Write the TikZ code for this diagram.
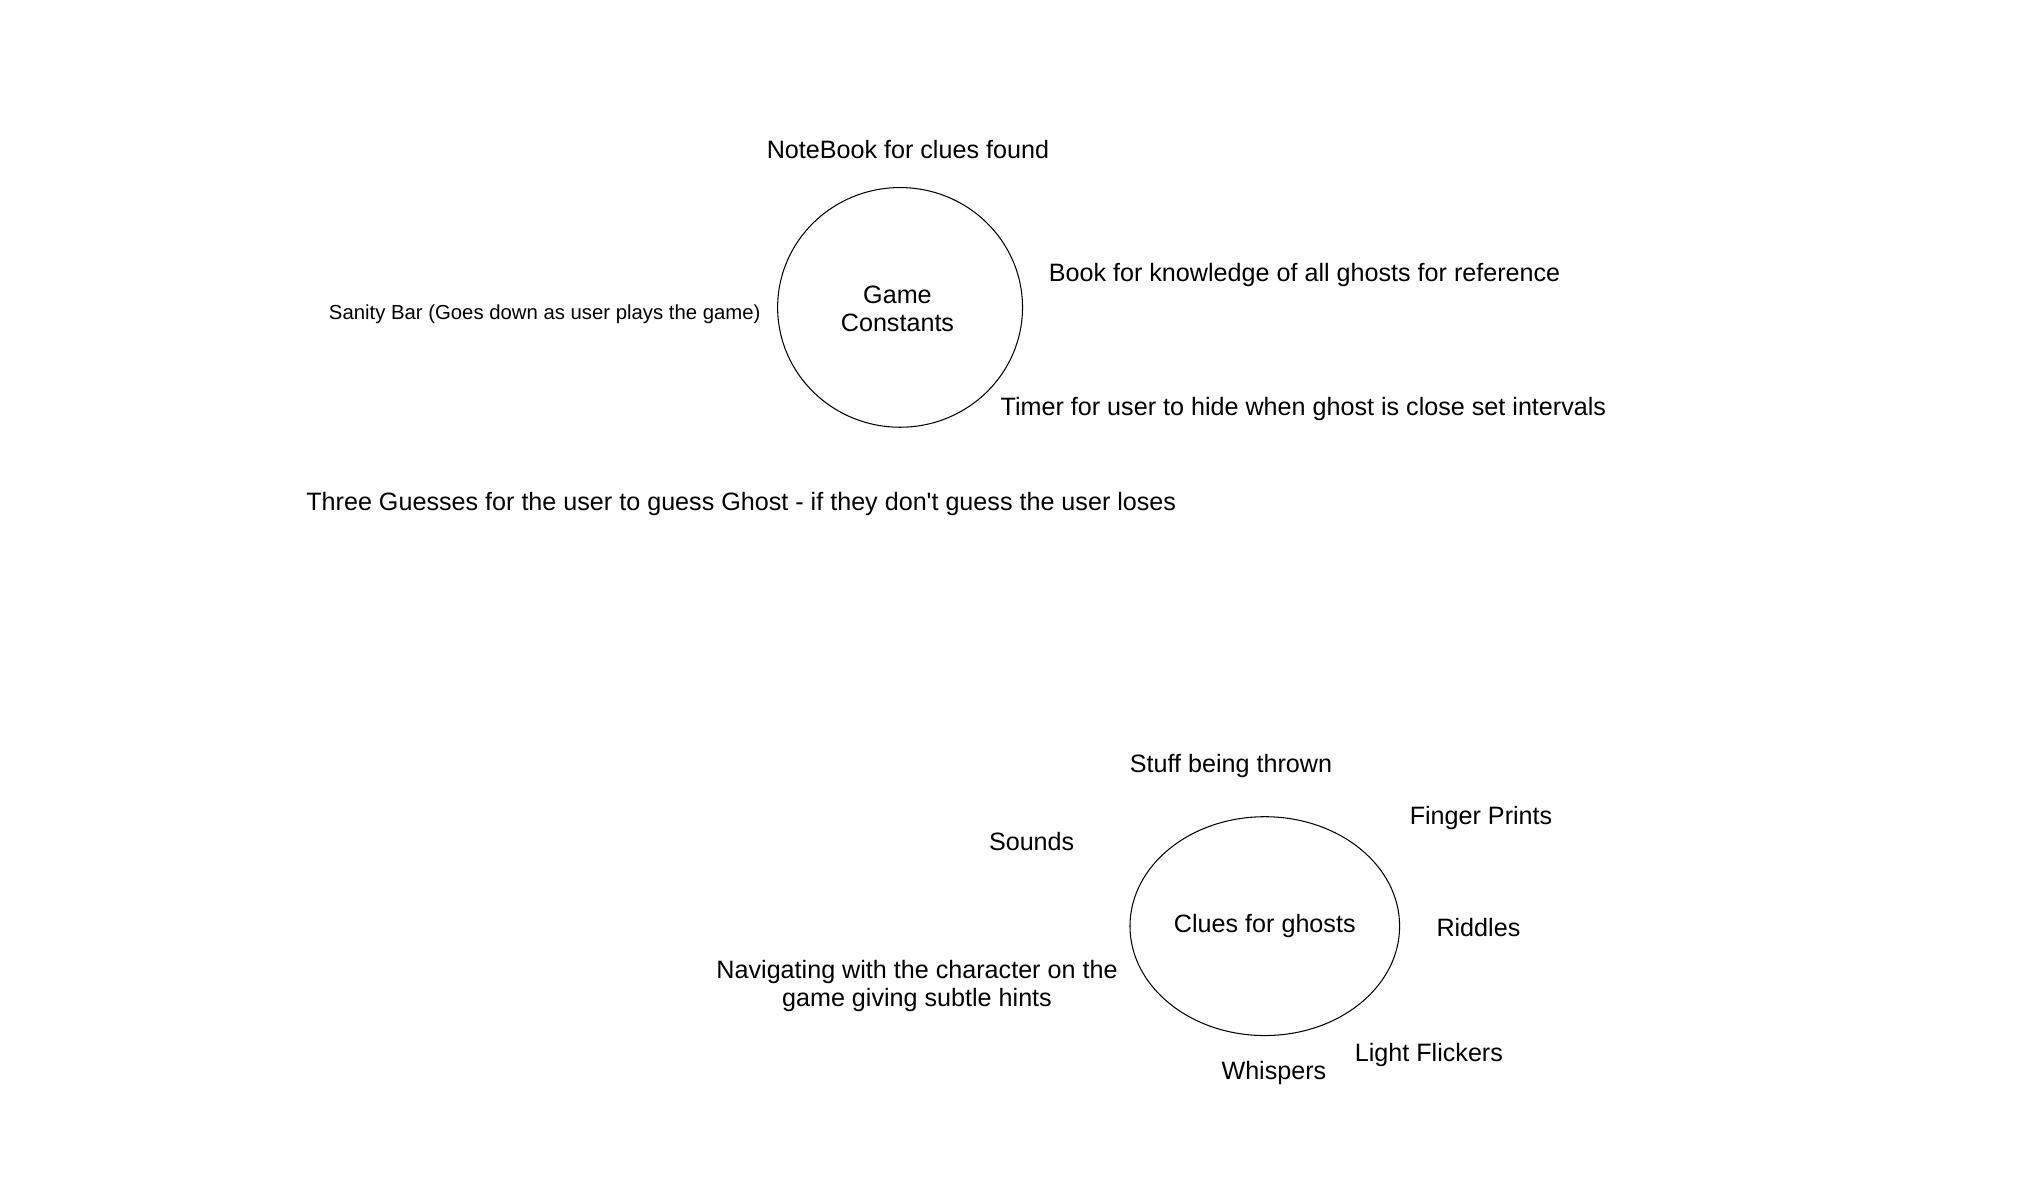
\documentclass[tikz,border=0pt]{standalone}
\usepackage{fontspec}
\setmainfont{Liberation Sans}
\usetikzlibrary{shapes.geometric}
\begin{document}
\begin{tikzpicture}[x=1pt,y=-1pt,
  lbl/.style={inner sep=0pt,font=\fontsize{19.3}{21}\selectfont,align=center},
  small/.style={inner sep=0pt,font=\fontsize{15.6}{20}\selectfont,align=center},
  blob/.style={draw=black,line width=0.8pt,ellipse,inner sep=0pt}]
\useasboundingbox (0,0) rectangle (1560,920);
% top cluster
\node[blob,minimum width=188pt,minimum height=184pt] (gc) at (691,236) {};
\node[lbl] (gct) at (689,237) {Game\\Constants};
\node[lbl] (nb) at (697,115) {NoteBook for clues found};
\node[lbl,anchor=west] (bk) at (805,211) {Book for knowledge of all ghosts for reference};
\node[small,anchor=east] (sb) at (584,241) {Sanity Bar (Goes down as user plays the game)};
\node[lbl,anchor=west] (tm) at (768,314) {Timer for user to hide when ghost is close set intervals};
\node[lbl,anchor=west] (tg) at (235,387) {Three Guesses for the user to guess Ghost - if they don\textquotesingle t guess the user loses};
% bottom cluster
\node[blob,minimum width=207pt,minimum height=168pt] (cg) at (971,711) {};
\node[lbl] (cgt) at (971,711) {Clues for ghosts};
\node[lbl] (st) at (945,588) {Stuff being thrown};
\node[lbl] (fp) at (1137,628) {Finger Prints};
\node[lbl] (so) at (792,646) {Sounds};
\node[lbl] (ri) at (1135,712) {Riddles};
\node[lbl] (nv) at (704,757) {Navigating with the character on the\\game giving subtle hints};
\node[lbl] (wh) at (978,824) {Whispers};
\node[lbl] (lf) at (1097,810) {Light Flickers};
\end{tikzpicture}
\end{document}
